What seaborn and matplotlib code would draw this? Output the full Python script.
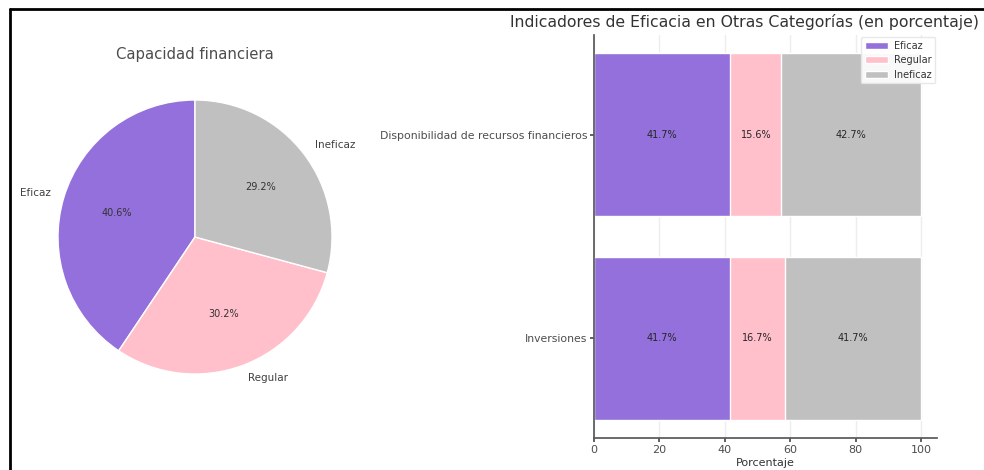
import matplotlib
matplotlib.use("Agg")
import matplotlib.pyplot as plt
from matplotlib.lines import Line2D
import seaborn as sns
import numpy as np

# ---- data ----
pie_labels = ["Eficaz", "Regular", "Ineficaz"]
pie_values = [40.6, 30.2, 29.2]

bar_categories = ["Disponibilidad de recursos financieros", "Inversiones"]
eficaz = [41.7, 41.7]
regular = [15.6, 16.7]
ineficaz = [42.7, 41.7]
series_names = ["Eficaz", "Regular", "Ineficaz"]
colors = ["#9370DB", "#FFC0CB", "#C0C0C0"]
x_ticks = [0, 20, 40, 60, 80, 100]

sns.set_theme(style="whitegrid", rc={
    "axes.edgecolor": "0.35",
    "grid.color": "0.93",
    "xtick.bottom": True,
    "ytick.left": True,
    "xtick.major.size": 3,
    "ytick.major.size": 3,
    "xtick.color": "0.3",
    "ytick.color": "0.3",
    "text.color": "0.2",
    "axes.labelcolor": "0.2",
})
plt.rcParams["font.family"] = ["DejaVu Sans"]

fig = plt.figure(figsize=(9.84, 4.70), dpi=100)

# ---- pie ----
W, H = 984, 470
cx, cy, r = 195, 237, 137
half = r * 1.25
ax1 = fig.add_axes([(cx - half) / W, (H - cy - half) / H, 2 * half / W, 2 * half / H])
wedges, texts, autotexts = ax1.pie(
    pie_values, labels=pie_labels, colors=colors, startangle=90,
    autopct="%1.1f%%", textprops={"fontsize": 7.5, "color": "0.25"})
for t in autotexts:
    t.set_fontsize(7)
    t.set_color("0.2")
ax1.set_xlim(-1.25, 1.25)
ax1.set_ylim(-1.25, 1.25)
ax1.set_aspect("auto")
fig.text(cx / W, 1 - 55 / H, "Capacidad financiera", ha="center", va="center",
         fontsize=10.7, color="0.3")

# ---- stacked horizontal bars ----
ax2 = fig.add_axes([594 / W, 1 - 438 / H, 343.4 / W, (438 - 35) / H])
cum1 = np.array(eficaz)
cum2 = cum1 + np.array(regular)
cum3 = cum2 + np.array(ineficaz)
sns.barplot(x=cum3, y=bar_categories, color=colors[2], orient="h", ax=ax2,
            width=0.8, label=series_names[2], saturation=1)
sns.barplot(x=cum2, y=bar_categories, color=colors[1], orient="h", ax=ax2,
            width=0.8, label=series_names[1], saturation=1)
sns.barplot(x=cum1, y=bar_categories, color=colors[0], orient="h", ax=ax2,
            width=0.8, label=series_names[0], saturation=1)

lefts = [np.zeros(2), cum1, cum2]
vals = [eficaz, regular, ineficaz]
for left, v in zip(lefts, vals):
    for i, val in enumerate(v):
        ax2.text(left[i] + val / 2, i, f"{val:.1f}%", ha="center", va="center",
                 fontsize=7, color="0.15")

ax2.set_xlim(0, 105)
ax2.set_ylim(1.49, -0.49)
ax2.set_xticks(x_ticks)
ax2.tick_params(axis="x", labelsize=8, pad=2)
ax2.tick_params(axis="y", labelsize=7.8, pad=2)
ax2.set_xlabel("Porcentaje", fontsize=8, labelpad=2)
ax2.set_ylabel("")
sns.despine(ax=ax2)
ax2.set_title("Indicadores de Eficacia en Otras Categorías (en porcentaje)",
              fontsize=11.3, color="0.2", pad=6, x=(744 - 594) / 343.4)

handles, labels = ax2.get_legend_handles_labels()
order = [labels.index(n) for n in series_names]
ax2.legend([handles[i] for i in order], [labels[i] for i in order],
           loc="upper right", fontsize=7, frameon=True, framealpha=0.9,
           edgecolor="0.9", borderpad=0.4, handlelength=2.4, labelspacing=0.45,
           handletextpad=0.6, borderaxespad=0.2, bbox_to_anchor=(1.0, 1.0))

# ---- figure border (screenshot frame) ----
fig.add_artist(Line2D([10 / W, 10 / W], [0, 1 - 9 / H], color="black", lw=2,
                      transform=fig.transFigure))
fig.add_artist(Line2D([10 / W, 1], [1 - 9 / H, 1 - 9 / H], color="black", lw=2,
                      transform=fig.transFigure))

fig.savefig("out.png", dpi=100)
